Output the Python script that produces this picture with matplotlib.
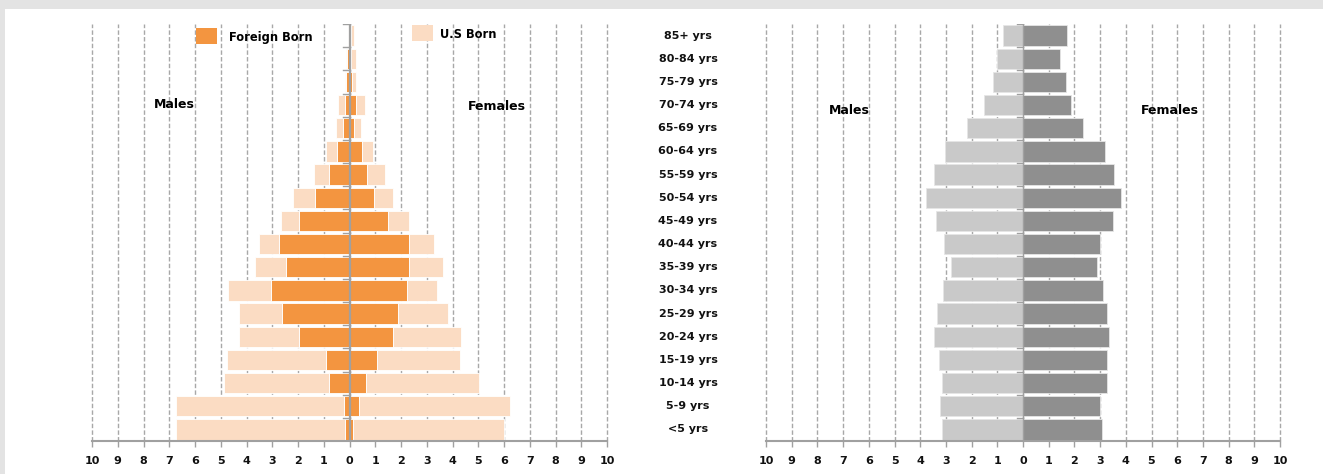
import matplotlib
matplotlib.use("Agg")
import matplotlib.pyplot as plt
import matplotlib.transforms as mtransforms
from matplotlib.patches import Rectangle
import numpy as np

ages = ['<5 yrs', '5-9 yrs', '10-14 yrs', '15-19 yrs', '20-24 yrs', '25-29 yrs',
        '30-34 yrs', '35-39 yrs', '40-44 yrs', '45-49 yrs', '50-54 yrs', '55-59 yrs',
        '60-64 yrs', '65-69 yrs', '70-74 yrs', '75-79 yrs', '80-84 yrs', '85+ yrs']

# Left chart: percent, stacked (foreign born inner, U.S born outer)
male_foreign = [0.16, 0.22, 0.81, 0.91, 1.96, 2.61, 3.04, 2.45, 2.72, 1.96, 1.33, 0.81,
                0.48, 0.27, 0.16, 0.13, 0.11, 0.05]
male_us = [6.59, 6.53, 4.07, 3.86, 2.34, 1.69, 1.68, 1.22, 0.79, 0.69, 0.85, 0.57,
           0.43, 0.27, 0.27, 0.03, 0.01, 0.01]
female_foreign = [0.12, 0.36, 0.63, 1.06, 1.69, 1.87, 2.23, 2.33, 2.33, 1.48, 0.94, 0.69,
                  0.47, 0.16, 0.26, 0.11, 0.05, 0.04]
female_us = [5.87, 5.89, 4.41, 3.23, 2.65, 1.95, 1.16, 1.31, 0.94, 0.83, 0.74, 0.68,
             0.43, 0.30, 0.33, 0.16, 0.22, 0.12]

# Right chart: percent
male_total = [3.17, 3.23, 3.17, 3.28, 3.45, 3.33, 3.13, 2.82, 3.08, 3.40, 3.76, 3.45,
              3.02, 2.18, 1.53, 1.16, 1.00, 0.79]
female_total = [3.08, 2.99, 3.25, 3.25, 3.35, 3.28, 3.13, 2.87, 2.99, 3.51, 3.82, 3.56,
                3.18, 2.35, 1.85, 1.66, 1.44, 1.71]

ticks = list(range(-10, 11))
tick_labels = [str(abs(t)) for t in ticks]

C_FOREIGN = '#f39540'
C_US = '#fbdcc3'
C_MALE = '#c9c9c9'
C_FEMALE = '#8f8f8f'
C_AXIS = '#a0a0a0'

W, H = 1323, 474
fig = plt.figure(figsize=(W / 100, H / 100), dpi=100)
fig.patch.set_facecolor('#e3e3e3')
fig.patches.append(Rectangle((5 / W, 0), 1 - 5 / W, 1 - 9 / H, transform=fig.transFigure,
                             facecolor='white', edgecolor='none', zorder=-10))

y = np.arange(len(ages))
bh = 0.88

def setup(ax, center_lw):
    ax.set_facecolor('none')
    ax.set_xlim(-10, 10)
    ax.set_ylim(-0.5, len(ages) - 0.5)
    for s in ['top', 'right', 'left']:
        ax.spines[s].set_visible(False)
    ax.spines['bottom'].set_color(C_AXIS)
    ax.spines['bottom'].set_linewidth(1.5)
    ax.set_xticks(ticks)
    ax.set_xticklabels(tick_labels, fontsize=8, fontweight='bold', color='#111111')
    ax.tick_params(axis='x', length=4, width=1, color=C_AXIS, pad=7)
    ax.set_yticks([])
    for t in ticks:
        ax.axvline(t, color='#a8a8a8', lw=1.0, ls=(0, (3.2, 1.6)), zorder=0.5, clip_on=False)
    # center axis with boundary ticks
    ax.axvline(0, color=C_AXIS, lw=center_lw, zorder=3)
    for b in np.arange(-0.5, len(ages) - 0.4, 1.0):
        ax.plot([-0.25, 0], [b, b], color=C_AXIS, lw=1.0, zorder=3)

# Left axes
ax1 = fig.add_axes([92 / W, 33 / H, (607 - 92) / W, (450 - 33) / H])
setup(ax1, 1.6)
mf = np.array(male_foreign); mu = np.array(male_us)
ff = np.array(female_foreign); fu = np.array(female_us)
ax1.barh(y, -mf, height=bh, color=C_FOREIGN, edgecolor='white', linewidth=0.6, zorder=2)
ax1.barh(y, -mu, left=-mf, height=bh, color=C_US, edgecolor='white', linewidth=0.6, zorder=2)
ax1.barh(y, ff, height=bh, color=C_FOREIGN, edgecolor='white', linewidth=0.6, zorder=2)
ax1.barh(y, fu, left=ff, height=bh, color=C_US, edgecolor='white', linewidth=0.6, zorder=2)

# Right axes
ax2 = fig.add_axes([766 / W, 33 / H, (1280 - 766) / W, (450 - 33) / H])
setup(ax2, 1.0)
ax2.barh(y, -np.array(male_total), height=bh, color=C_MALE, edgecolor='#e6e6e6', linewidth=0.6, zorder=2)
ax2.barh(y, np.array(female_total), height=bh, color=C_FEMALE, edgecolor='#e6e6e6', linewidth=0.6, zorder=2)

# Age labels between charts
trans = mtransforms.blended_transform_factory(fig.transFigure, ax2.transData)
for i, lab in enumerate(ages):
    fig.text(688 / W, i, lab, transform=trans, ha='center', va='center',
             fontsize=8, fontweight='bold', color='#111111')

# Males / Females annotations
fig.text(174 / W, 1 - 104 / H, 'Males', ha='center', va='center', fontsize=9, fontweight='bold')
fig.text(497 / W, 1 - 107 / H, 'Females', ha='center', va='center', fontsize=9, fontweight='bold')
fig.text(849 / W, 1 - 110 / H, 'Males', ha='center', va='center', fontsize=9, fontweight='bold')
fig.text(1170 / W, 1 - 111 / H, 'Females', ha='center', va='center', fontsize=9, fontweight='bold')

# Legend
fig.patches.append(Rectangle((196 / W, 1 - 44 / H), 21 / W, 16 / H, transform=fig.transFigure,
                             facecolor=C_FOREIGN, edgecolor='none', zorder=5))
fig.text(229 / W, 1 - 38 / H, 'Foreign Born', ha='left', va='center', fontsize=8.3, fontweight='bold')
fig.patches.append(Rectangle((412 / W, 1 - 41 / H), 21 / W, 16 / H, transform=fig.transFigure,
                             facecolor=C_US, edgecolor='none', zorder=5))
fig.text(440 / W, 1 - 35 / H, 'U.S Born', ha='left', va='center', fontsize=8.3, fontweight='bold')

fig.savefig('out.png', dpi=100, facecolor=fig.get_facecolor())
